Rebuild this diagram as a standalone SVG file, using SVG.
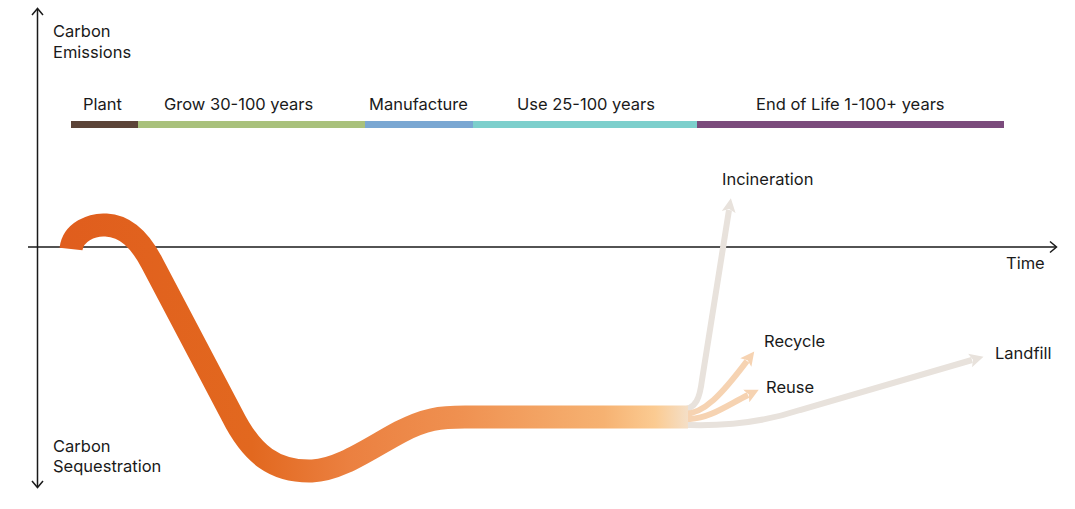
<svg xmlns="http://www.w3.org/2000/svg" width="1075" height="509" viewBox="0 0 1075 509">
<style>
text{font-family:Inter,"Liberation Sans",Arial,sans-serif;font-size:16.5px;fill:#1a1a1a}
.axis{stroke:#1a1a1a;stroke-width:1.5;fill:none}
.head{stroke:#1a1a1a;stroke-width:1.5;fill:none}
.br{fill:none;stroke-width:6;stroke-linecap:butt}
.grey{stroke:#e8e2dc}
.peach{stroke:#f6d3b2}
</style>
<defs>
<linearGradient id="flow" gradientUnits="userSpaceOnUse" x1="60" y1="0" x2="700" y2="0">
<stop offset="0" stop-color="#e05d1d"/>
<stop offset="0.3" stop-color="#e2681f"/>
<stop offset="0.45" stop-color="#eb8040"/>
<stop offset="0.62" stop-color="#ef9050"/>
<stop offset="0.85" stop-color="#f6b272"/>
<stop offset="0.93" stop-color="#fbcb92"/>
<stop offset="1" stop-color="#f2e6da"/>
</linearGradient>
<marker id="ah-grey" markerUnits="userSpaceOnUse" markerWidth="16" markerHeight="16" refX="2" refY="8" orient="auto" viewBox="0 0 16 16">
<path d="M0 1 L14 8 L0 15 L3 8 Z" fill="#e8e2dc"/>
</marker>
<marker id="ah-peach" markerUnits="userSpaceOnUse" markerWidth="16" markerHeight="16" refX="2" refY="8" orient="auto" viewBox="0 0 16 16">
<path d="M0 1 L14 8 L0 15 L3 8 Z" fill="#f6d3b2"/>
</marker>
</defs>

<g id="axes">
<line class="axis" x1="37.5" y1="9" x2="37.5" y2="487"/>
<path class="head" d="M32 15 L37.5 8.5 L43 15"/>
<path class="head" d="M32 481 L37.5 487.5 L43 481"/>
<line class="axis" x1="28" y1="247" x2="1056" y2="247"/>
<path class="head" d="M1050 241.5 L1056.5 247 L1050 252.5"/>
</g>

<g id="axis-labels">
<text x="53" y="37">Carbon</text>
<text x="53" y="58">Emissions</text>
<text x="53" y="452">Carbon</text>
<text x="53" y="472">Sequestration</text>
<text x="1006" y="269">Time</text>
</g>

<g id="phases">
<g id="phase-plant"><rect x="71" y="121" width="67" height="7" fill="#5c4438"/><text x="83" y="110">Plant</text></g>
<g id="phase-grow"><rect x="138" y="121" width="227" height="7" fill="#a9c17c"/><text x="164" y="110">Grow 30-100 years</text></g>
<g id="phase-manufacture"><rect x="365" y="121" width="108" height="7" fill="#7aa7d2"/><text x="369" y="110">Manufacture</text></g>
<g id="phase-use"><rect x="473" y="121" width="224" height="7" fill="#7dcfcc"/><text x="517" y="110">Use 25-100 years</text></g>
<g id="phase-eol"><rect x="697" y="121" width="307" height="7" fill="#7b4b7c"/><text x="756" y="110">End of Life 1-100+ years</text></g>
</g>

<g id="connectors">
<path class="br grey" d="M640 410 L680 410 C697 410 700 396 702 380 L729 210" marker-end="url(#ah-grey)"/>
<path class="br peach" d="M640 414 L684 414 C704 414 722 394 747 361" marker-end="url(#ah-peach)"/>
<path class="br peach" d="M640 419 L690 419 C710 418 726 406 748 395" marker-end="url(#ah-peach)"/>
<path class="br grey" d="M640 424 L690 425 C730 426 770 420 800 410 L972 360" marker-end="url(#ah-grey)"/>
<path id="carbon-flow" fill="none" stroke="url(#flow)" stroke-width="23" d="M71 249 C73 232 92 224 106 225 C126 226 140 240 152 263 L232 415 C252 455 275 472 312 471 C340 470 370 448 400 432 C425 419 440 417 465 417 L688 417"/>
</g>

<g id="outcomes">
<text id="incineration" x="722" y="185">Incineration</text>
<text id="recycle" x="764" y="347">Recycle</text>
<text id="reuse" x="766" y="393">Reuse</text>
<text id="landfill" x="995" y="359">Landfill</text>
</g>
</svg>
